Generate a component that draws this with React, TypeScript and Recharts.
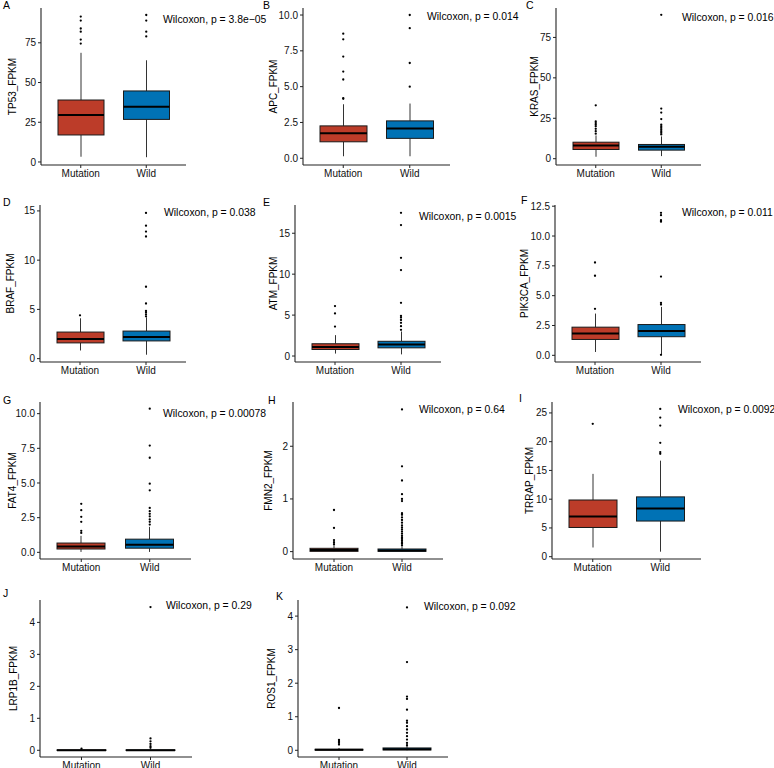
import React from 'react';
import { ComposedChart, Bar, Scatter, XAxis, YAxis } from 'recharts';

const groups = ['Mutation', 'Wild'];
const groupColors = ['#BC3C29', '#0072B5'];

const genes = ['TP53', 'APC', 'KRAS', 'BRAF', 'ATM', 'PIK3CA', 'FAT4', 'FMN2', 'TRRAP', 'LRP1B', 'ROS1'];
const panelTags = ['A', 'B', 'C', 'D', 'E', 'F', 'G', 'H', 'I', 'J', 'K'];
const pValues = ['3.8e\u221205', '0.014', '0.016', '0.038', '0.0015', '0.011', '0.00078', '0.64', '0.0092', '0.29', '0.092'];

// per gene: [Mutation, Wild], each [whisker low, q1, median, q3, whisker high]
const boxStats = [
  [[3.3, 17, 29.6, 39, 68.7], [3, 26.8, 34.8, 44.7, 64]],
  [[0.14, 1.15, 1.74, 2.26, 3.77], [0.14, 1.39, 2.08, 2.61, 3.82]],
  [[1.2, 5.7, 8.2, 10.2, 14.4], [1.6, 5.3, 7.4, 8.8, 13.8]],
  [[0.83, 1.6, 2.0, 2.7, 4.1], [0.4, 1.8, 2.2, 2.8, 4.2]],
  [[0.3, 0.8, 1.1, 1.5, 2.55], [0.2, 1.0, 1.4, 1.8, 3.0]],
  [[0.28, 1.33, 1.83, 2.36, 3.5], [0.08, 1.56, 2.03, 2.58, 4.06]],
  [[0.03, 0.24, 0.43, 0.67, 1.19], [0.03, 0.3, 0.55, 0.95, 1.84]],
  [[0, 0.005, 0.03, 0.063, 0.12], [0, 0.005, 0.02, 0.05, 0.1]],
  [[1.6, 5.08, 7.0, 9.86, 14.4], [0.87, 6.2, 8.4, 10.4, 16.7]],
  [[0, 0, 0.005, 0.012, 0.03], [0, 0, 0.005, 0.012, 0.03]],
  [[0, 0.005, 0.015, 0.03, 0.07], [0, 0.01, 0.03, 0.07, 0.15]],
];

// per gene: [Mutation outliers, Wild outliers]
const outliers = [
  [[91.5, 89, 84, 82, 77, 74.5], [92.5, 89, 82, 79]],
  [[8.7, 8.3, 7.1, 6.05, 5.5, 4.2, 4.15], [10.0, 9.08, 6.65, 5.0]],
  [[33, 23, 22, 21, 20, 18.5, 17, 15.5], [89, 31, 28.5, 24.5, 21, 20, 19, 18, 17, 16, 15]],
  [[4.4], [14.8, 13.5, 12.9, 12.4, 7.3, 5.6, 4.85, 4.7, 4.5, 4.3]],
  [[6.1, 5.2, 3.6], [17.5, 16.0, 12.0, 10.5, 6.5, 4.9, 4.7, 4.4, 4.05, 3.65, 3.2]],
  [[7.78, 6.67, 3.9], [11.94, 11.75, 11.33, 11.2, 6.6, 4.39, 4.25, 0.04]],
  [[3.5, 3.04, 2.56, 2.2, 1.55, 1.4], [10.36, 7.7, 6.82, 4.95, 4.47, 3.2, 2.97, 2.78, 2.6, 2.37, 2.2, 2.0]],
  [[0.79, 0.45, 0.22, 0.18, 0.14], [2.7, 1.62, 1.35, 1.09, 1.0, 0.96, 0.73, 0.7, 0.65, 0.6, 0.55, 0.5, 0.46, 0.42, 0.38, 0.34, 0.3, 0.27, 0.24, 0.21, 0.18, 0.15, 0.12]],
  [[23.1], [25.7, 24.2, 22.8, 19.8, 18.2, 17.9]],
  [[0.05], [4.48, 0.37, 0.28, 0.2, 0.13, 0.08]],
  [[1.26, 0.31, 0.27, 0.22, 0.17], [4.26, 2.63, 1.6, 1.53, 1.21, 0.88, 0.82, 0.72, 0.62, 0.52, 0.42, 0.32, 0.22, 0.15]],
];

const yDomains = [
  [-1.9, 96.9], [-0.47, 10.49], [-3.9, 93.2], [-0.34, 15.6], [-0.73, 18.45], [-0.56, 12.6],
  [-0.48, 10.84], [-0.14, 2.84], [-0.4, 26.9], [-0.21, 4.7], [-0.2, 4.48],
];
const yTicks = [
  [0, 25, 50, 75], [0, 2.5, 5, 7.5, 10], [0, 25, 50, 75], [0, 5, 10, 15], [0, 5, 10, 15],
  [0, 2.5, 5, 7.5, 10, 12.5], [0, 2.5, 5, 7.5, 10], [0, 1, 2], [0, 5, 10, 15, 20, 25],
  [0, 1, 2, 3, 4], [0, 1, 2, 3, 4],
];
const yDecimals = [0, 1, 0, 0, 0, 1, 1, 0, 0, 0, 0];

// panel placement (px)
const layouts = [
  { left: 0, top: 0, axisW: 41, right: 72, titleX: 12, tag: [3, 5], note: [163, 20] },
  { left: 258, top: 0, axisW: 45, right: 66, titleX: 15, tag: [263, 5], note: [427, 17] },
  { left: 516, top: 0, axisW: 40, right: 73, titleX: 18, tag: [526, 5], note: [682, 18] },
  { left: 0, top: 197, axisW: 40, right: 72, titleX: 10, tag: [3, 202], note: [164, 213] },
  { left: 258, top: 197, axisW: 37, right: 75, titleX: 15, tag: [263, 202], note: [419, 217] },
  { left: 516, top: 197, axisW: 39, right: 73, titleX: 8, tag: [521, 200], note: [682, 213] },
  { left: 0, top: 394, axisW: 40, right: 67, titleX: 12, tag: [3, 400], note: [163, 414] },
  { left: 258, top: 394, axisW: 35, right: 73, titleX: 10, tag: [268, 400], note: [419, 410] },
  { left: 516, top: 394, axisW: 36, right: 73, titleX: 13, tag: [519, 398], note: [678, 410] },
  { left: 0, top: 592, axisW: 40, right: 66, titleX: 13, tag: [3, 593], note: [166, 606] },
  { left: 258, top: 592, axisW: 40, right: 68, titleX: 13, tag: [276, 596], note: [424, 607] },
];

const PANEL_W = 258;
const PANEL_H = 197;
const TOP = 8;
const X_AXIS_H = 32;
const FONT = '"Liberation Sans", Arial, Helvetica, sans-serif';

function BoxShape(props: any) {
  const { x, y, width, height, payload, index } = props;
  const [lo, q1, med, q3, hi] = payload.stats;
  const top = Math.min(y, y + height);
  const bottom = Math.max(y, y + height);
  const span = hi - lo;
  const py = (v: number) => (span === 0 ? bottom : bottom - ((v - lo) / span) * (bottom - top));
  const cx = x + width / 2;
  return (
    <g>
      <line x1={cx} x2={cx} y1={py(hi)} y2={py(q3)} stroke="#333" strokeWidth={1} />
      <line x1={cx} x2={cx} y1={py(q1)} y2={py(lo)} stroke="#333" strokeWidth={1} />
      <rect x={x} y={py(q3)} width={width} height={Math.max(py(q1) - py(q3), 0.5)} fill={groupColors[index]} stroke="#1a1a1a" strokeWidth={1} />
      <line x1={x} x2={x + width} y1={py(med)} y2={py(med)} stroke="#000" strokeWidth={2} />
    </g>
  );
}

function OutlierDot(props: any) {
  return <circle cx={props.cx} cy={props.cy} r={1.15} fill="#000" />;
}

function AxisTitle({ viewBox, value, cx }: any) {
  const cy = viewBox ? viewBox.y + viewBox.height / 2 : TOP + (PANEL_H - TOP - X_AXIS_H) / 2;
  return (
    <text x={cx} y={cy} transform={`rotate(-90 ${cx} ${cy})`} textAnchor="middle" dominantBaseline="central" fontSize={10} fill="#000" fontFamily={FONT}>
      {value}
    </text>
  );
}

function Panel({ i }: { i: number }) {
  const lay = layouts[i];
  const plotW = PANEL_W - lay.axisW - lay.right;
  const pad = Math.round(plotW * 0.0455);
  const boxW = Math.round(plotW * 0.32);
  const rows = groups.map((g, k) => ({ name: g, range: [boxStats[i][k][0], boxStats[i][k][4]], stats: boxStats[i][k] }));
  const dots = groups.flatMap((g, k) => outliers[i][k].map((v) => ({ name: g, v })));
  const dec = yDecimals[i];
  return (
    <div style={{ position: 'absolute', left: lay.left, top: lay.top, width: PANEL_W, height: PANEL_H }}>
      <ComposedChart width={PANEL_W} height={PANEL_H} data={rows} margin={{ top: TOP, right: lay.right, bottom: 0, left: 0 }}>
        <XAxis
          dataKey="name"
          allowDuplicatedCategory={false}
          height={X_AXIS_H}
          padding={{ left: pad, right: pad }}
          tick={{ fontSize: 10, fill: '#111', fontFamily: FONT }}
          tickSize={3}
          tickLine={{ stroke: '#222' }}
          axisLine={{ stroke: '#222', strokeWidth: 1.1 }}
        />
        <YAxis
          width={lay.axisW}
          type="number"
          domain={yDomains[i]}
          ticks={yTicks[i]}
          allowDataOverflow
          interval={0}
          tickFormatter={(v: number) => v.toFixed(dec)}
          tick={{ fontSize: 10, fill: '#111', fontFamily: FONT }}
          tickSize={3}
          tickLine={{ stroke: '#222' }}
          axisLine={{ stroke: '#222', strokeWidth: 1.1 }}
          label={<AxisTitle value={`${genes[i]}_FPKM`} cx={lay.titleX} />}
        />
        <Bar dataKey="range" barSize={boxW} shape={<BoxShape />} isAnimationActive={false} />
        <Scatter data={dots} dataKey="v" shape={<OutlierDot />} isAnimationActive={false} />
      </ComposedChart>
    </div>
  );
}

export default function App() {
  return (
    <div style={{ position: 'absolute', left: 0, top: 0, width: 774, height: 768, overflow: 'hidden', background: '#fff', fontFamily: FONT }}>
      {genes.map((g, i) => (
        <Panel key={g} i={i} />
      ))}
      {layouts.map((lay, i) => (
        <div key={`tag-${i}`} style={{ position: 'absolute', left: lay.tag[0], top: lay.tag[1] - 6, fontSize: 10.5, lineHeight: '12px', color: '#000' }}>
          {panelTags[i]}
        </div>
      ))}
      {layouts.map((lay, i) => (
        <div key={`note-${i}`} style={{ position: 'absolute', left: lay.note[0], top: lay.note[1] - 6, fontSize: 10.4, lineHeight: '12px', color: '#000', whiteSpace: 'nowrap', zIndex: 2 }}>
          {`Wilcoxon, p = ${pValues[i]}`}
        </div>
      ))}
    </div>
  );
}
